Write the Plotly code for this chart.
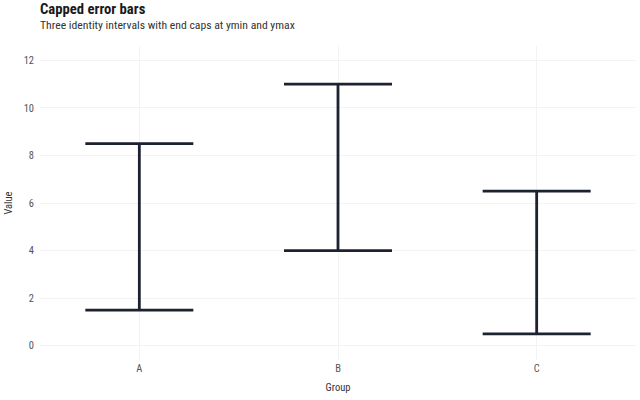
import plotly.graph_objects as go

groups = ["A", "B", "C"]
ymin = [1.5, 4.0, 0.5]
ymax = [8.5, 11.0, 6.5]

FONT = "Roboto Condensed, Liberation Sans Narrow, Roboto, sans-serif"
INK = "#1d2230"

mid = [(lo + hi) / 2 for lo, hi in zip(ymin, ymax)]

fig = go.Figure()
fig.add_trace(go.Scatter(
    x=groups, y=mid, mode="markers",
    marker=dict(size=1, opacity=0),
    error_y=dict(
        type="data", symmetric=False,
        array=[hi - m for hi, m in zip(ymax, mid)],
        arrayminus=[m - lo for lo, m in zip(ymin, mid)],
        width=54, thickness=2.8, color=INK,
    ),
    hoverinfo="skip", showlegend=False,
))

fig.update_layout(
    width=640, height=400,
    margin=dict(l=40, r=4, t=46, b=40),
    paper_bgcolor="white", plot_bgcolor="white",
    font=dict(family=FONT, color="#4d4d4d", size=10),
    annotations=[
        dict(text="<b>Capped error bars</b>", x=0, y=1, xref="paper", yref="paper",
             xanchor="left", yanchor="bottom", xshift=-2, yshift=26, showarrow=False,
             font=dict(size=14.7, color="#1a1a1a", family=FONT)),
        dict(text="Three identity intervals with end caps at ymin and ymax", x=0, y=1,
             xref="paper", yref="paper", xanchor="left", yanchor="bottom", xshift=-2, yshift=12,
             showarrow=False, font=dict(size=11.7, color="#333333", family=FONT)),
    ],
)
fig.update_xaxes(
    type="category", range=[-0.5, 2.5],
    showgrid=True, gridcolor="#f3f3f3", gridwidth=1, zeroline=False,
    showline=False, ticks="", ticklabelstandoff=0,
    title=dict(text="Group", font=dict(size=10.5, color="#333333"), standoff=10),
    tickfont=dict(size=10.5, color="#555555"),
)
fig.update_yaxes(
    range=[-0.6, 12.6], tickvals=[0, 2, 4, 6, 8, 10, 12],
    showgrid=True, gridcolor="#f3f3f3", gridwidth=1, zeroline=False,
    showline=False, ticks="", ticklabelstandoff=5,
    title=dict(text="Value", font=dict(size=10.5, color="#333333"), standoff=8),
    tickfont=dict(size=10.5, color="#555555"),
)

# drop the default 8px page margin so the figure sits at the window corner
fig.write_html("out.html", config={"displayModeBar": False},
               post_script="document.body.style.margin='0';")
